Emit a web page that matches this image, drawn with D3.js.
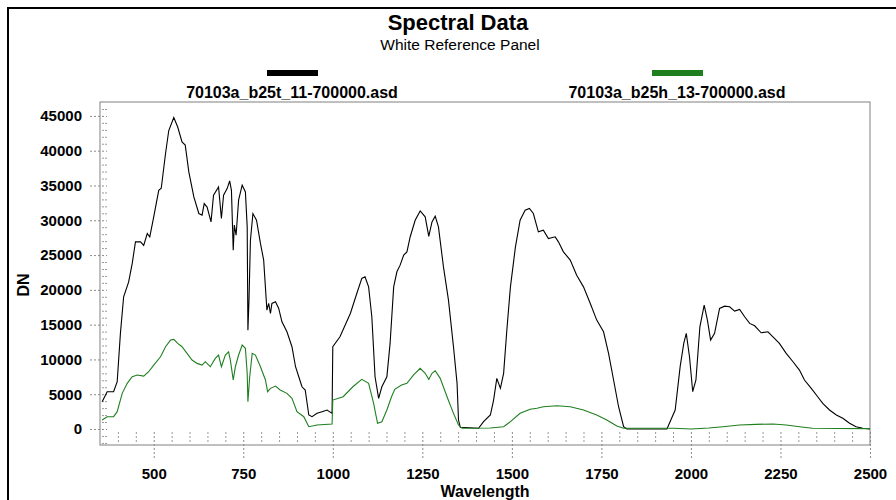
<!DOCTYPE html>
<html>
<head>
<meta charset="utf-8">
<script src="https://cdn.jsdelivr.net/npm/d3@7"></script>
<style>
  body { margin: 0; background: #fff; }
  text { font-family: "Liberation Sans", Arial, sans-serif; }
</style>
</head>
<body>
<div class="chart"></div>
<script>
// data
var seriesNames = ["70103a_b25t_11-700000.asd", "70103a_b25h_13-700000.asd"];
var seriesColors = ["#000000", "#1f7f1f"];

var blackWl = [356,370,388,398,407,416,430,440,449,463,472,482,489,500,514,521,533,542,556,567,579,588,598,612,626,635,641,649,660,667,681,689,695,705,712,717,722,725,730,737,747,756,761,763,766,770,777,787,798,807,816,821,826,830,840,849,858,872,886,896,905,914,923,933,942,956,970,984,998,1000,1020,1049,1067,1081,1090,1100,1109,1118,1128,1137,1151,1160,1170,1179,1188,1198,1207,1216,1230,1244,1258,1268,1277,1286,1295,1309,1323,1337,1347,1351,1356,1407,1421,1440,1449,1458,1468,1477,1486,1496,1510,1523,1537,1549,1560,1574,1588,1602,1621,1630,1644,1663,1681,1700,1719,1737,1756,1770,1784,1798,1812,1821,1933,1956,1970,1980,1987,1996,2005,2014,2025,2037,2046,2055,2066,2080,2094,2108,2122,2136,2150,2164,2178,2196,2215,2229,2247,2266,2285,2303,2317,2336,2354,2368,2387,2406,2424,2443,2461,2480,2500];
var blackDn = [3900,5360,5360,6800,13740,19000,21150,23800,26900,26900,26400,28100,27600,30500,34300,34600,39600,42900,44760,43400,41250,40800,36950,33360,30970,30730,32400,31900,29770,33600,34800,30260,33600,34560,35660,34300,25700,29300,27860,32900,35040,34080,29050,14200,18500,27100,30970,30000,26670,24270,17090,18050,16600,18050,18280,17330,15400,13970,11820,8950,7510,6070,5600,2010,1770,2250,2490,2730,2250,11820,13250,16600,19480,21640,21870,20430,16130,7510,4400,6070,7510,12300,20430,22600,23550,24990,25460,27600,30000,31350,30490,27700,29770,30590,29050,23300,18520,11820,6560,1290,240,100,1050,2010,4160,7280,5840,8000,14220,20430,26180,30000,31450,31690,30970,28330,28570,27380,27620,26900,25460,24270,22110,20430,18050,15650,13970,10870,7040,3200,330,0,0,2730,9000,12300,13740,10380,5360,7040,14690,17800,15650,12780,13740,17330,17660,17560,16950,17190,16130,15180,14830,13830,13970,13250,12300,10870,9670,8470,7040,5840,4640,3690,2730,2010,1540,820,330,100,0];

var greenWl = [356,370,388,398,412,426,440,454,472,486,500,519,533,547,556,567,579,593,607,621,635,644,658,672,681,689,700,709,714,722,728,737,747,756,761,763,768,775,784,798,812,818,826,840,853,872,886,900,919,933,956,998,1000,1029,1056,1081,1100,1114,1125,1137,1151,1164,1173,1192,1207,1225,1244,1258,1268,1277,1286,1300,1319,1337,1351,1361,1440,1477,1496,1523,1551,1570,1588,1626,1663,1700,1737,1765,1793,1812,1952,2000,2050,2089,2136,2182,2229,2266,2303,2340,2410,2500];
var greenDn = [1290,1770,1770,2490,5120,6560,7510,7750,7610,8230,9190,10380,11820,12780,12880,12300,11820,10870,9910,9430,9190,9670,8950,10150,10630,8950,10630,11100,9910,7040,8950,10630,12060,11590,8000,3920,7510,10870,10630,8950,7040,5360,5840,6170,5600,5120,4400,2490,1770,330,570,720,4160,4640,6070,7130,6560,3690,820,1050,2730,4640,5700,6320,6560,7750,8720,8000,7130,8000,8370,7280,4640,2250,570,100,150,330,1050,2250,2830,2970,3200,3350,3200,2730,2010,1290,430,100,100,0,150,330,570,670,720,570,330,100,80,50];

var xTicks = [500, 750, 1000, 1250, 1500, 1750, 2000, 2250, 2500];
var yTicks = [0, 5000, 10000, 15000, 20000, 25000, 30000, 35000, 40000, 45000];

// layout
var svgWidth = 896;
var svgHeight = 500;
var plot = { left: 100, top: 102, right: 870, bottom: 445 };

var svg = d3.select(".chart").append("svg")
  .attr("width", svgWidth)
  .attr("height", svgHeight);

// outer frame (runs off the right/bottom edge)
svg.append("rect")
  .attr("x", 8).attr("y", 8)
  .attr("width", 900).attr("height", 500)
  .attr("fill", "none")
  .attr("stroke", "#000")
  .attr("stroke-width", 2);

// titles
svg.append("text")
  .attr("x", 458).attr("y", 30)
  .attr("text-anchor", "middle")
  .style("font-size", "22px")
  .style("font-weight", "bold")
  .text("Spectral Data");

svg.append("text")
  .attr("x", 460).attr("y", 50)
  .attr("text-anchor", "middle")
  .style("font-size", "15.5px")
  .text("White Reference Panel");

// legend
var legendX = [292, 677];
seriesNames.forEach(function(name, i) {
  svg.append("rect")
    .attr("x", legendX[i] - 25).attr("y", 70)
    .attr("width", 51).attr("height", 6)
    .attr("fill", seriesColors[i]);
  svg.append("text")
    .attr("x", legendX[i]).attr("y", 98)
    .attr("text-anchor", "middle")
    .style("font-size", "16px")
    .style("font-weight", "bold")
    .text(name);
});

// scales
var xScale = d3.scaleLinear()
  .domain([350, 2500])
  .range([plot.left, plot.right]);

var yScale = d3.scaleLinear()
  .domain([-2300, 47000])
  .range([plot.bottom, plot.top]);

// plot frame
svg.append("rect")
  .attr("x", plot.left).attr("y", plot.top)
  .attr("width", plot.right - plot.left)
  .attr("height", plot.bottom - plot.top)
  .attr("fill", "none")
  .attr("stroke", "#808080")
  .attr("stroke-width", 1);

// x axis: dashed ticks crossing the bottom edge, minor every 50
var bottomAxis = d3.axisBottom(xScale)
  .tickValues(xTicks)
  .tickSize(13)
  .tickPadding(10)
  .tickFormat(d3.format("d"));

var xAxisG = svg.append("g")
  .attr("transform", `translate(0, ${plot.bottom})`)
  .call(bottomAxis);
xAxisG.select(".domain").remove();
xAxisG.selectAll(".tick line")
  .attr("y1", -13)
  .attr("stroke", "#8a8a8a")
  .attr("stroke-dasharray", "2,2");
xAxisG.selectAll(".tick text")
  .attr("fill", "#000")
  .style("font-size", "15px")
  .style("font-weight", "bold")
  .style("font-family", "'Liberation Sans', Arial, sans-serif");

var xMinor = d3.range(400, 2500, 50).filter(d => d % 250 !== 0);
svg.append("g").selectAll("line")
  .data(xMinor)
  .enter()
  .append("line")
  .attr("x1", d => xScale(d) + 0.5).attr("x2", d => xScale(d) + 0.5)
  .attr("y1", plot.bottom - 13).attr("y2", plot.bottom - 2)
  .attr("stroke", "#9a9a9a")
  .attr("stroke-dasharray", "2,2");

// y axis
var leftAxis = d3.axisLeft(yScale)
  .tickValues(yTicks)
  .tickSize(10)
  .tickPadding(8)
  .tickFormat(d3.format("d"));

var yAxisG = svg.append("g")
  .attr("transform", `translate(${plot.left}, 0)`)
  .call(leftAxis);
yAxisG.select(".domain").remove();
yAxisG.selectAll(".tick line")
  .attr("x2", 7)
  .attr("x1", -10)
  .attr("stroke", "#8a8a8a")
  .attr("stroke-dasharray", "2,2");
yAxisG.selectAll(".tick text")
  .attr("fill", "#000")
  .style("font-size", "15px")
  .style("font-weight", "bold")
  .style("font-family", "'Liberation Sans', Arial, sans-serif");

var yMinor = d3.range(-2000, 47000, 1000).filter(d => d % 5000 !== 0);
svg.append("g").selectAll("line")
  .data(yMinor)
  .enter()
  .append("line")
  .attr("x1", plot.left + 2).attr("x2", plot.left + 7)
  .attr("y1", d => yScale(d) + 0.5).attr("y2", d => yScale(d) + 0.5)
  .attr("stroke", "#9a9a9a")
  .attr("stroke-dasharray", "2,1");

// axis titles
svg.append("text")
  .attr("transform", "translate(29, 285) rotate(-90)")
  .attr("text-anchor", "middle")
  .style("font-size", "16px")
  .style("font-weight", "bold")
  .text("DN");

svg.append("text")
  .attr("x", 485).attr("y", 497)
  .attr("text-anchor", "middle")
  .style("font-size", "16px")
  .style("font-weight", "bold")
  .text("Wavelength");

// spectra
var line = d3.line()
  .x(d => xScale(d[0]))
  .y(d => yScale(d[1]));

var series = [
  d3.zip(blackWl, blackDn),
  d3.zip(greenWl, greenDn)
];

svg.append("g").selectAll("path")
  .data(series)
  .enter()
  .append("path")
  .attr("d", line)
  .attr("fill", "none")
  .attr("stroke", (d, i) => seriesColors[i])
  .attr("stroke-width", 1.1);
</script>
</body>
</html>
